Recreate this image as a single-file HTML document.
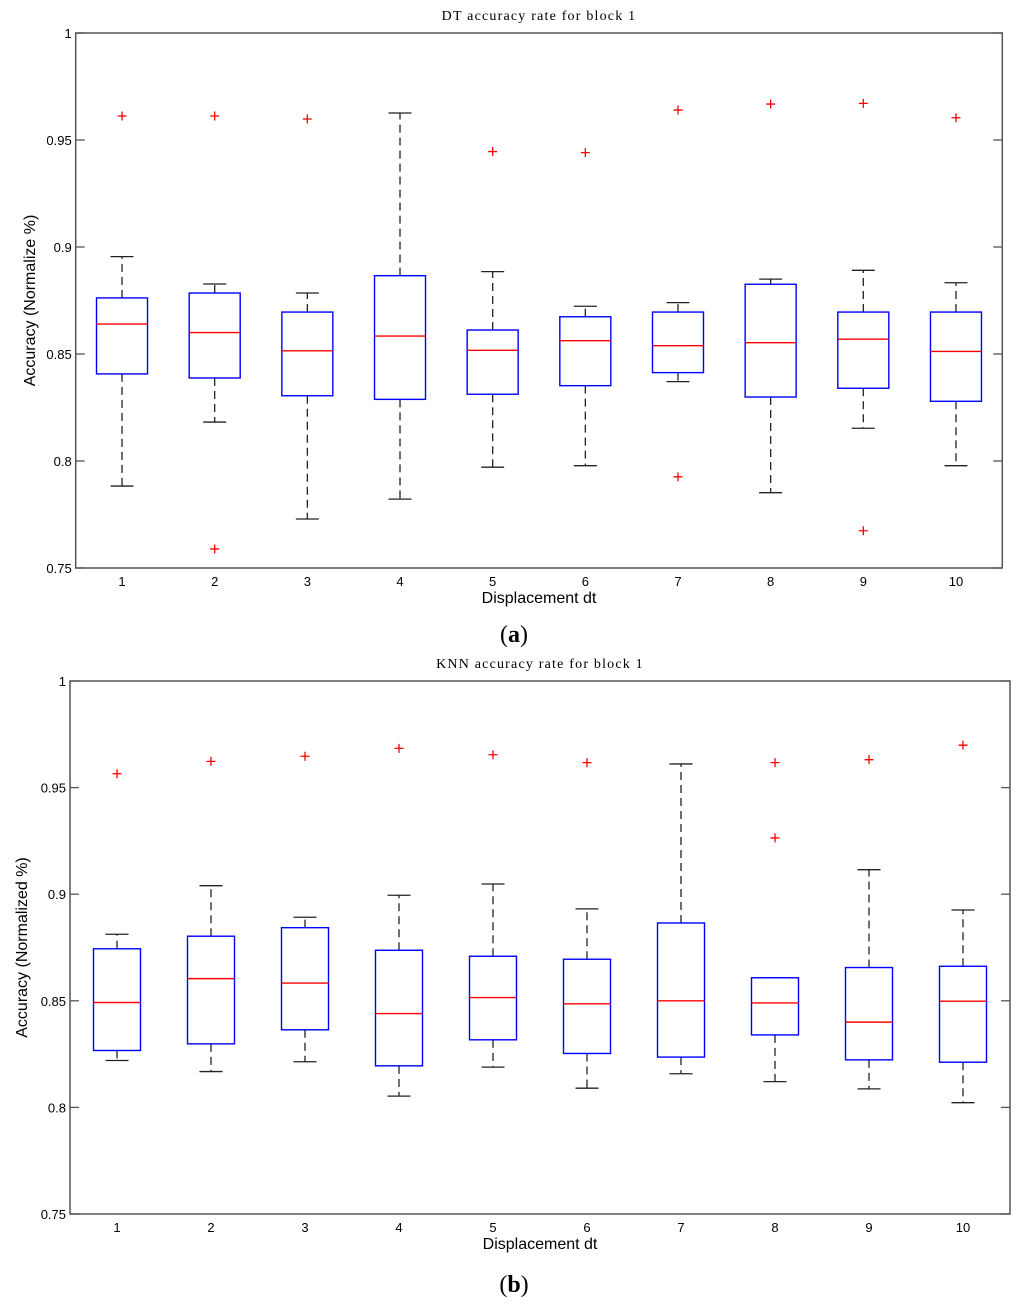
<!DOCTYPE html>
<html><head><meta charset="utf-8"><style>
html,body{margin:0;padding:0;background:#fff;}
svg{display:block;}
</style></head><body>
<svg id="fig" width="1024" height="1307" viewBox="0 0 1024 1307" xmlns="http://www.w3.org/2000/svg"></svg>
<script>
// ---- Data: panel (a) DT ----
const categories = [1,2,3,4,5,6,7,8,9,10];
const dtHigh   = [0.8955,0.8827,0.8785,0.9626,0.8885,0.8723,0.8740,0.8850,0.8891,0.8833];
const dtQ3     = [0.8762,0.8785,0.8696,0.8866,0.8612,0.8674,0.8696,0.8826,0.8696,0.8696];
const dtMedian = [0.8640,0.8600,0.8515,0.8584,0.8517,0.8562,0.8539,0.8553,0.8569,0.8512];
const dtQ1     = [0.8407,0.8388,0.8305,0.8288,0.8312,0.8352,0.8413,0.8299,0.8340,0.8279];
const dtLow    = [0.7883,0.8182,0.7729,0.7822,0.7971,0.7978,0.8371,0.7852,0.8153,0.7978];
const dtOutliers = [[0.9612],[0.9612,0.7589],[0.9598],[],[0.9446],[0.9441],[0.9640,0.7926],[0.9668],[0.9671,0.7674],[0.9604]];
// ---- Data: panel (b) KNN ----
const knnHigh   = [0.8812,0.9040,0.8892,0.8995,0.9048,0.8931,0.9611,0.8608,0.9115,0.8926];
const knnQ3     = [0.8744,0.8803,0.8843,0.8737,0.8709,0.8695,0.8865,0.8608,0.8656,0.8662];
const knnMedian = [0.8492,0.8604,0.8583,0.8440,0.8515,0.8486,0.8500,0.8490,0.8400,0.8498];
const knnQ1     = [0.8267,0.8298,0.8364,0.8195,0.8317,0.8253,0.8236,0.8340,0.8223,0.8212];
const knnLow    = [0.8220,0.8168,0.8214,0.8053,0.8189,0.8090,0.8158,0.8121,0.8087,0.8022];
const knnOutliers = [[0.9565],[0.9623],[0.9647],[0.9684],[0.9654],[0.9617],[],[0.9617,0.9264],[0.9631],[0.9699]];
const yTicks = [0.75,0.8,0.85,0.9,0.95,1];
const yTickLabels = ['0.75','0.8','0.85','0.9','0.95','1'];

const NS='http://www.w3.org/2000/svg';
const svg=document.getElementById('fig');
function mk(tag,attrs,parent){const e=document.createElementNS(NS,tag);for(const k in attrs)e.setAttribute(k,attrs[k]);(parent||svg).appendChild(e);return e;}

function panel(o){
  const g=mk('g',{});
  
  
  const X=v=>o.x0+(v-0.5)/10*(o.x1-o.x0);
  const Y=v=>o.y1-(v-0.75)/0.25*(o.y1-o.y0);
  const frame=mk('rect',{x:o.x0,y:o.y0,width:o.x1-o.x0,height:o.y1-o.y0,fill:'none',stroke:'#555','stroke-width':1.5},g);
  
  
  yTicks.forEach((t,i)=>{
    const y=Y(t);
    mk('line',{x1:o.x0,x2:o.x0+9,y1:y,y2:y,stroke:'#555','stroke-width':1.3},g);
    mk('line',{x1:o.x1-9,x2:o.x1,y1:y,y2:y,stroke:'#555','stroke-width':1.3},g);
    const tx=mk('text',{x:o.x0-4,y:y+5,'text-anchor':'end','font-size':13,'font-family':'Liberation Sans, sans-serif',fill:'#000'},g);
    tx.textContent=yTickLabels[i];
    
    
  });
  categories.forEach((c,i)=>{
    const cx=X(c);
    const tx=mk('text',{x:cx,y:o.y1+18,'text-anchor':'middle','font-size':13,'font-family':'Liberation Sans, sans-serif',fill:'#000'},g);
    tx.textContent=String(c);
    
    
    const hw=o.hw, cw=11.5;
    const wu=mk('line',{x1:cx,x2:cx,y1:Y(o.q3[i]),y2:Y(o.hi[i]),stroke:'#222','stroke-width':1.3,'stroke-dasharray':'8,5'},g);
    
    
    const wl=mk('line',{x1:cx,x2:cx,y1:Y(o.q1[i]),y2:Y(o.lo[i]),stroke:'#222','stroke-width':1.3,'stroke-dasharray':'8,5'},g);
    
    
    mk('line',{x1:cx-cw,x2:cx+cw,y1:Y(o.hi[i]),y2:Y(o.hi[i]),stroke:'#222','stroke-width':1.3},g);
    mk('line',{x1:cx-cw,x2:cx+cw,y1:Y(o.lo[i]),y2:Y(o.lo[i]),stroke:'#222','stroke-width':1.3},g);
    const b=mk('rect',{x:cx-hw,y:Y(o.q3[i]),width:2*hw,height:Y(o.q1[i])-Y(o.q3[i]),fill:'#fff',stroke:'#0000ff','stroke-width':1.4},g);
    
    
    const m=mk('line',{x1:cx-hw,x2:cx+hw,y1:Y(o.med[i]),y2:Y(o.med[i]),stroke:'#ff0000','stroke-width':1.4},g);
    
    
    o.out[i].forEach(v=>{
      const y=Y(v);
      const p=mk('path',{d:`M${cx-4.5},${y}H${cx+4.5}M${cx},${y-4.5}V${y+4.5}`,stroke:'#ff0000','stroke-width':1.3,fill:'none'},g);
      
      
    });
  });
  const t=mk('text',{x:(o.x0+o.x1)/2,y:o.y0-13,'text-anchor':'middle','font-size':14,'font-family':'Liberation Serif, serif','letter-spacing':'1.2',fill:'#000'},g);
  t.textContent=o.title;
  
  
  const xl=mk('text',{x:(o.x0+o.x1)/2,y:o.y1+35,'text-anchor':'middle','font-size':16,'font-family':'Liberation Sans, sans-serif',fill:'#000'},g);
  xl.textContent='Displacement dt';
  
  
  const yc=(o.y0+o.y1)/2;
  const yl=mk('text',{x:o.ylx,y:yc,'text-anchor':'middle','font-size':16,'font-family':'Liberation Sans, sans-serif',fill:'#000',transform:`rotate(-90 ${o.ylx} ${yc})`},g);
  yl.textContent=o.ylabel;
  
  
  const cap=mk('text',{x:o.capx,y:o.capy,'text-anchor':'middle','font-size':24,'font-family':'Liberation Serif, serif',fill:'#000'},g);
  cap.innerHTML='(<tspan font-weight="bold">'+o.letter+'</tspan>)';
  
  
}
panel({name:'dt-boxplot-panel',x0:75.7,x1:1002.3,y0:33,y1:568,hw:25.5,title:'DT accuracy rate for block 1',ylabel:'Accuracy (Normalize %)',ylx:35,
  hi:dtHigh,q3:dtQ3,med:dtMedian,q1:dtQ1,lo:dtLow,out:dtOutliers,letter:'a',capx:514,capy:642});
panel({name:'knn-boxplot-panel',x0:70,x1:1010,y0:681,y1:1214,hw:23.5,title:'KNN accuracy rate for block 1',ylabel:'Accuracy (Normalized %)',ylx:27,
  hi:knnHigh,q3:knnQ3,med:knnMedian,q1:knnQ1,lo:knnLow,out:knnOutliers,letter:'b',capx:514,capy:1292});
</script>
</body></html>
